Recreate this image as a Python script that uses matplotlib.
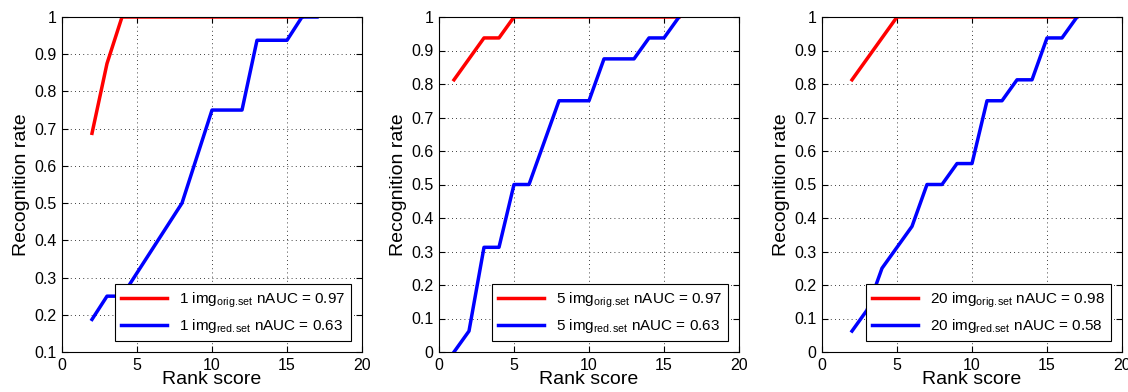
import matplotlib
matplotlib.use("Agg")
import matplotlib.pyplot as plt
from matplotlib.ticker import FormatStrFormatter

plt.rcParams['font.family'] = ['Liberation Sans', 'DejaVu Sans']
plt.rcParams['mathtext.default'] = 'regular'

# Panel 1: 1 image
p1_orig_x = [2, 3, 4, 5, 6, 7, 8, 9, 10, 11, 12, 13, 14, 15, 16]
p1_orig_y = [0.6875, 0.875, 1, 1, 1, 1, 1, 1, 1, 1, 1, 1, 1, 1, 1]
p1_red_x = [2, 3, 4, 5, 6, 7, 8, 9, 10, 11, 12, 13, 14, 15, 16, 17]
p1_red_y = [0.1875, 0.25, 0.25, 0.3125, 0.375, 0.4375, 0.5, 0.625, 0.75,
            0.75, 0.75, 0.9375, 0.9375, 0.9375, 1, 1]

# Panel 2: 5 images
p2_orig_x = [1, 2, 3, 4, 5, 6, 7, 8, 9, 10, 11, 12, 13, 14, 15, 16]
p2_orig_y = [0.8125, 0.875, 0.9375, 0.9375, 1, 1, 1, 1, 1, 1, 1, 1, 1, 1, 1, 1]
p2_red_x = [1, 2, 3, 4, 5, 6, 7, 8, 9, 10, 11, 12, 13, 14, 15, 16]
p2_red_y = [0, 0.0625, 0.3125, 0.3125, 0.5, 0.5, 0.625, 0.75, 0.75, 0.75,
            0.875, 0.875, 0.875, 0.9375, 0.9375, 1]

# Panel 3: 20 images
p3_orig_x = [2, 3, 4, 5, 6, 7, 8, 9, 10, 11, 12, 13, 14, 15, 16, 17]
p3_orig_y = [0.8125, 0.875, 0.9375, 1, 1, 1, 1, 1, 1, 1, 1, 1, 1, 1, 1, 1]
p3_red_x = [2, 3, 4, 5, 6, 7, 8, 9, 10, 11, 12, 13, 14, 15, 16, 17]
p3_red_y = [0.0625, 0.125, 0.25, 0.3125, 0.375, 0.5, 0.5, 0.5625, 0.5625,
            0.75, 0.75, 0.8125, 0.8125, 0.9375, 0.9375, 1]

n_imgs = ["1", "5", "20"]
nauc_orig = ["0.97", "0.97", "0.98"]
nauc_red = ["0.63", "0.63", "0.58"]
y_mins = [0.1, 0, 0]

panels = [
    (p1_orig_x, p1_orig_y, p1_red_x, p1_red_y),
    (p2_orig_x, p2_orig_y, p2_red_x, p2_red_y),
    (p3_orig_x, p3_orig_y, p3_red_x, p3_red_y),
]
lefts = [62, 439, 822]

W, H = 1128, 392
fig = plt.figure(figsize=(W / 100, H / 100), dpi=100)

for i, (ox, oy, rx, ry) in enumerate(panels):
    ax = fig.add_axes([lefts[i] / W, 40 / H, 300 / W, 335 / H])
    ax.plot(ox, oy, color='red', lw=2.5,
            label=n_imgs[i] + r' img$_{orig.\!set}$ nAUC = ' + nauc_orig[i])
    ax.plot(rx, ry, color='blue', lw=2.5,
            label=n_imgs[i] + r' img$_{red.\!set}$ nAUC = ' + nauc_red[i])
    ax.set_xlim(0, 20)
    ax.set_ylim(y_mins[i], 1)
    ax.set_xticks([0, 5, 10, 15, 20])
    ax.set_yticks([round(v / 10, 1) for v in range(int(y_mins[i] * 10), 11)])
    ax.yaxis.set_major_formatter(FormatStrFormatter('%g'))
    ax.tick_params(direction='in', top=True, right=True, labelsize=11.5,
                   length=4, width=0.8, pad=4)
    ax.grid(True, color='black', linestyle=(0, (1, 4)), linewidth=0.6)
    for s in ax.spines.values():
        s.set_linewidth(0.8)
    ax.set_xlabel('Rank score', fontsize=14, labelpad=-1)
    ax.set_ylabel('Recognition rate', fontsize=14, labelpad=3)
    leg = ax.legend(loc='lower right', fontsize=11, fancybox=False,
                    framealpha=1, edgecolor='black', handlelength=3.0,
                    borderaxespad=0.7, labelspacing=0.5)
    leg.get_frame().set_linewidth(0.8)

fig.savefig('out.png', dpi=100)
